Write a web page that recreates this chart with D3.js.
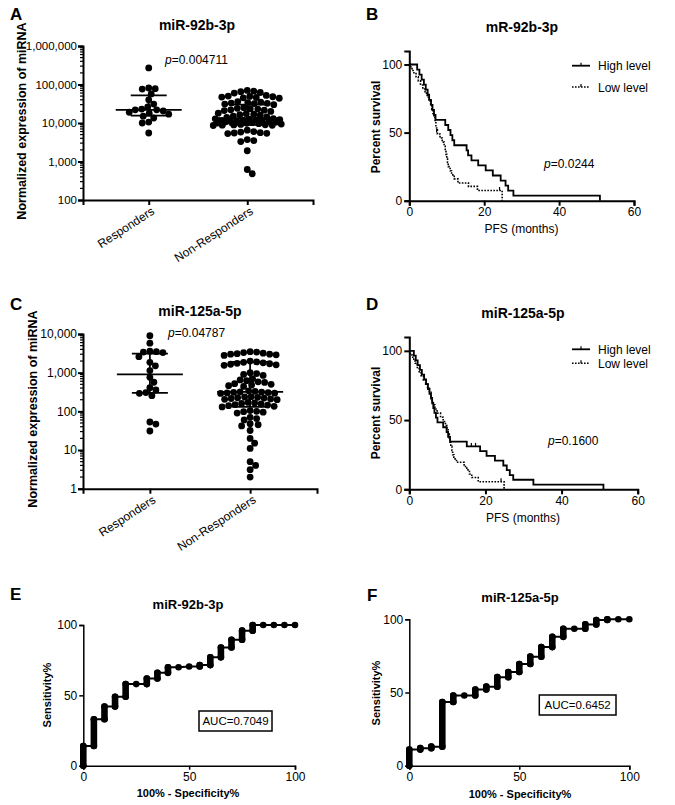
<!DOCTYPE html>
<html><head><meta charset="utf-8">
<script src="https://cdn.jsdelivr.net/npm/d3@7"></script>
<style>
body{margin:0;background:#fff;}
svg{display:block;}
</style></head><body>
<svg id="c" width="675" height="805"></svg>
<script>
// ---------------- DATA ----------------
const groups = ["Responders", "Non-Responders"];

// Panel A: miR-92b-3p normalized expression
const aResponders = [269000, 81000, 78000, 76000, 57000, 40000, 31000, 26000, 23000, 22000,
  22000, 20500, 19000, 18000, 17000, 15000, 13500, 10600, 10000, 5500];
const aNonResponders = [70000, 67000, 65000, 62000, 60000,
  52000, 50000, 49000, 48000, 47000, 46000, 45000, 44000,
  36000, 35000, 34000, 33000, 32500, 32000, 31000, 30000,
  25000, 24000, 23500, 23000, 22000, 21500, 21000, 20000,
  18000, 17500, 17000, 16500, 16000, 15000, 14500, 14000,
  13000, 12800, 12500, 12200, 12000, 11800, 11500, 11300, 11000, 11000, 10800, 10700,
  10500, 10200, 10000, 9800, 9600, 9400, 9200, 9000, 8900, 8800, 8700, 8600,
  6500, 6000, 5800, 5600, 5500, 5400, 5300,
  3700, 3500, 3300,
  1900, 620, 480];
const aMedian = [22000, 13300];
const aQ1 = [15500, 8900];
const aQ3 = [52000, 30000];
const aTicks = [100, 1000, 10000, 100000, 1000000];

// Panel C: miR-125a-5p normalized expression
const cResponders = [9000, 5800, 3600, 3400, 3300, 3500, 2600, 1500, 1850, 1130,
  760, 565, 410, 357, 293, 255, 305, 53, 47, 31];
const cNonResponders = [3500, 3400, 3300, 3200, 3100, 3000, 3000, 2900, 2800,
  2000, 1900, 1850, 1800, 1750, 1700, 1650, 1600, 1550,
  1000, 950, 900, 850,
  700, 650, 620, 580, 560,
  520, 500, 480, 460, 440,
  340, 330, 320, 315, 310, 305, 300, 295, 290,
  240, 235, 230, 225, 220, 215, 210, 205, 200,
  170, 165, 160, 155, 150, 145, 140, 135, 130,
  105, 100, 98, 95, 90,
  70, 65, 60,
  48, 45, 42,
  32, 20, 15, 11, 5, 4, 3.1, 2];
const cMedian = [900, 320];
const cQ1 = [300, 130];
const cQ3 = [3100, 1900];
const cTicks = [1, 10, 100, 1000, 10000];

// Panel B: Kaplan-Meier miR-92b-3p
const bHighT = [0, 2.1, 2.7, 3.3, 3.9, 4.4, 4.9, 5.3, 5.8, 6.2, 6.6, 7.0, 9.6, 10.4, 11.0, 11.5, 12.0, 15.3, 15.7, 16.6, 18.4, 20.4, 22.3, 24.4, 25.7, 26.4, 27.8, 50.9];
const bHighS = [100, 96.3, 92.6, 88.9, 85.2, 81.5, 77.8, 74.1, 70.4, 66.7, 63.0, 59.3, 55.6, 51.9, 48.1, 44.4, 40.7, 37.0, 33.3, 29.6, 25.9, 22.2, 18.5, 14.8, 11.1, 7.4, 3.7, 0];
const bLowT = [0, 0.4, 1.0, 1.8, 2.4, 3.0, 3.6, 4.2, 4.8, 5.3, 5.7, 6.0, 6.3, 6.6, 6.9, 7.1, 7.3, 7.5, 8.2, 8.8, 9.3, 9.6, 9.8, 10.0, 10.2, 10.4, 10.9, 11.3, 12.0, 13.0, 15.8, 18.2, 24.8];
const bLowS = [100, 97, 94, 91, 88, 85, 82, 79, 76, 73, 70, 67, 64, 61, 58, 55, 52, 49, 46, 43, 40, 37, 34, 31, 28, 25, 22, 19, 16, 13, 10.5, 7.5, 0];
const bLowCensT = [7.3, 24.1];
const bLowCensS = [50, 7.5];
const bHighCensT = [];
const bHighCensS = [];

// Panel D: Kaplan-Meier miR-125a-5p
const dHighT = [0, 1.2, 1.7, 2.2, 2.8, 3.3, 3.9, 4.4, 4.9, 5.3, 5.7, 6.0, 6.3, 6.6, 7.0, 7.4, 8.9, 9.8, 10.2, 10.7, 15.1, 18.6, 20.3, 22.5, 24.7, 25.6, 26.4, 27.3, 32.6, 51.0];
const dHighS = [100, 96.6, 93.1, 89.7, 86.2, 82.8, 79.3, 75.9, 72.4, 69.0, 65.5, 62.1, 58.6, 55.2, 51.7, 48.3, 44.8, 41.4, 37.9, 34.5, 31.0, 27.6, 24.1, 20.7, 17.2, 13.8, 10.3, 6.9, 3.4, 0];
const dLowT = [0, 0.3, 0.9, 1.5, 2.1, 2.6, 3.1, 3.7, 4.3, 4.8, 5.3, 5.7, 6.0, 6.3, 6.7, 7.3, 8.2, 8.9, 9.5, 9.9, 10.2, 10.5, 10.7, 10.9, 11.2, 11.4, 11.7, 12.4, 14.4, 15.1, 15.8, 16.4, 18.1, 24.9];
const dLowS = [100, 97, 94, 91, 88, 85, 82, 79, 76, 73, 70, 67, 64, 61, 58, 55, 52, 49, 46, 43, 40, 37, 34, 31, 28, 25, 22, 19.5, 16.5, 14, 11, 8.5, 5.5, 0];
const dHighCensT = [16.3, 17.4];
const dHighCensS = [31.0, 31.0];
const dLowCensT = [24.1];
const dLowCensS = [5.5];

const kmXTicks = [0, 20, 40, 60];
const kmYTicks = [0, 50, 100];

// Panel E: ROC miR-92b-3p (100% - specificity, sensitivity)
const eFpr = [0, 0, 5, 5, 10, 10, 15, 15, 20, 20, 25, 30, 30, 35, 35, 40, 40, 45, 50, 55, 55, 60, 60, 65, 65, 70, 70, 75, 75, 80, 80, 85, 90, 95, 100];
const eTpr = [0, 14, 14, 33, 33, 42, 42, 49, 49, 58, 58, 58, 62, 62, 66, 66, 70, 70, 70.5, 70.5, 71.5, 71.5, 77, 77, 84, 84, 89.5, 89.5, 96, 96, 100, 100, 100, 100, 100];
// Panel F: ROC miR-125a-5p
const fFpr = [0, 0, 5, 5, 10, 10, 15, 15, 20, 20, 25, 30, 30, 35, 35, 40, 40, 45, 45, 50, 50, 55, 55, 60, 60, 65, 65, 70, 70, 75, 80, 80, 85, 85, 90, 90, 95, 100];
const fTpr = [0, 11, 11, 12, 12, 13, 13, 43.5, 43.5, 48, 48, 48, 52, 52, 54, 54, 60.5, 60.5, 64, 64, 69.5, 69.5, 74.5, 74.5, 81, 81, 88, 88, 93.5, 93.5, 93.5, 96.5, 96.5, 99.5, 99.5, 100, 100, 100];
const rocTicks = [0, 50, 100];

// ---------------- DRAWING ----------------
const FONT = '"Liberation Sans", Arial, Helvetica, sans-serif';
const svg = d3.select("#c").attr("font-family", FONT);
svg.append("rect").attr("width", 675).attr("height", 805).attr("fill", "#fff");

function txt(x, y, s, opt = {}) {
  const t = svg.append("text").attr("x", x).attr("y", y).text(s)
    .attr("font-size", opt.size || 12).attr("fill", "#000")
    .attr("font-weight", opt.bold ? "bold" : "normal")
    .attr("text-anchor", opt.anchor || "start");
  if (opt.rotate) t.attr("transform", `rotate(${opt.rotate},${x},${y})`);
  return t;
}
function pText(x, y, val) {
  const t = svg.append("text").attr("x", x).attr("y", y).attr("font-size", 12).attr("fill", "#000");
  t.append("tspan").attr("font-style", "italic").text("p");
  t.append("tspan").text("=" + val);
}
function styleAxis(g, w, size) {
  g.attr("font-family", FONT).attr("font-size", size || 12);
  g.select(".domain").attr("stroke", "#000").attr("stroke-width", w);
  g.selectAll(".tick line").attr("stroke", "#000").attr("stroke-width", w);
  g.selectAll(".tick text").attr("fill", "#000");
}

function swarm(vals, y, cx, r, maxW) {
  const pts = vals.map(v => ({ v, y: y(v) })).sort((a, b) => a.y - b.y);
  const placed = [];
  const D = 2 * r * 0.93;
  const cands = [0];
  for (let o = 0.5; o <= maxW; o += 0.5) { cands.push(o); cands.push(-o); }
  for (const p of pts) {
    let best = null, bestO = 0, bestScore = -1;
    for (const o of cands) {
      let md = Infinity;
      for (const q of placed) {
        const d = Math.hypot(cx + o - q.x, p.y - q.y);
        if (d < md) md = d;
      }
      if (md >= D) { best = o; break; }
      if (md > bestScore) { bestScore = md; bestO = o; }
    }
    p.x = cx + (best !== null ? best : bestO);
    placed.push(p);
  }
  return placed;
}

function drawDot(cfg) {
  const y = d3.scaleLog().domain(cfg.domain).range([cfg.yBot, cfg.yTop]);
  const x = d3.scalePoint().domain(groups).range([cfg.x0, cfg.x1]).padding(0.667);
  const ya = svg.append("g").attr("transform", `translate(${cfg.x0},0)`)
    .call(d3.axisLeft(y).tickValues(cfg.ticks).tickFormat(d3.format(",")).tickSizeOuter(0).tickSize(5).tickPadding(1));
  styleAxis(ya, 2, cfg.tickFont);
  const minors = [];
  cfg.ticks.forEach(t => { for (let k = 2; k <= 9; k++) { const v = t * k; if (v < cfg.domain[1]) minors.push(v); } });
  ya.selectAll(".minor").data(minors).enter().append("line")
    .attr("x1", 0).attr("x2", -3).attr("y1", d => y(d)).attr("y2", d => y(d))
    .attr("stroke", "#000").attr("stroke-width", 1.2);
  const xa = svg.append("g").attr("transform", `translate(0,${cfg.yBot})`)
    .call(d3.axisBottom(x).tickSizeOuter(0).tickSize(5).tickFormat(""));
  styleAxis(xa, 2);
  groups.forEach(g => {
    svg.append("text").attr("transform", `translate(${x(g) + 2},${cfg.yBot + 6}) rotate(-33)`)
      .attr("text-anchor", "end").attr("dy", "0.71em").attr("font-size", 12).attr("fill", "#000").text(g);
  });
  cfg.series.forEach((vals, i) => {
    const pts = swarm(vals, y, x(groups[i]), 3.4, 34);
    svg.append("g").selectAll("circle").data(pts).enter().append("circle")
      .attr("cx", d => d.x).attr("cy", d => d.y).attr("r", 3.4).attr("fill", "#000");
  });
  groups.forEach((g, i) => {
    const cx = x(g);
    const gl = svg.append("g").attr("stroke", "#000").attr("stroke-width", 1.8);
    gl.append("line").attr("x1", cx - 33).attr("x2", cx + 33).attr("y1", y(cfg.med[i])).attr("y2", y(cfg.med[i]));
    gl.append("line").attr("x1", cx).attr("x2", cx).attr("y1", y(cfg.q1[i])).attr("y2", y(cfg.q3[i]));
    gl.append("line").attr("x1", cx - 18).attr("x2", cx + 18).attr("y1", y(cfg.q1[i])).attr("y2", y(cfg.q1[i]));
    gl.append("line").attr("x1", cx - 18).attr("x2", cx + 18).attr("y1", y(cfg.q3[i])).attr("y2", y(cfg.q3[i]));
  });
}

function drawKM(cfg) {
  const x = d3.scaleLinear().domain([0, 60]).range([cfg.x0, cfg.x1]);
  const y = d3.scaleLinear().domain([0, 110]).range([cfg.y0, cfg.yTop]);
  const ya = svg.append("g").attr("transform", `translate(${cfg.x0},0)`)
    .call(d3.axisLeft(y).tickValues(kmYTicks).tickSizeOuter(0).tickSize(5).tickPadding(2));
  styleAxis(ya, 2);
  const xa = svg.append("g").attr("transform", `translate(0,${cfg.y0})`)
    .call(d3.axisBottom(x).tickValues(kmXTicks).tickSizeOuter(0).tickSize(5).tickPadding(2));
  styleAxis(xa, 2);
  const line = d3.line().x(d => x(d[0])).y(d => y(d[1])).curve(d3.curveStepAfter);
  svg.append("path").attr("d", line(d3.zip(cfg.hT, cfg.hS))).attr("fill", "none")
    .attr("stroke", "#000").attr("stroke-width", 1.8);
  svg.append("path").attr("d", line(d3.zip(cfg.lT, cfg.lS))).attr("fill", "none")
    .attr("stroke", "#000").attr("stroke-width", 1.6).attr("stroke-dasharray", "1.6,1.4");
  const cens = d3.zip(cfg.hcT, cfg.hcS).concat(d3.zip(cfg.lcT, cfg.lcS));
  svg.append("g").selectAll("line").data(cens).enter().append("line")
    .attr("x1", d => x(d[0])).attr("x2", d => x(d[0])).attr("y1", d => y(d[1])).attr("y2", d => y(d[1]) - 3.5)
    .attr("stroke", "#000").attr("stroke-width", 1.2);
  // legend
  const lg = cfg.legend;
  svg.append("line").attr("x1", lg.x).attr("x2", lg.x + 18).attr("y1", lg.y1).attr("y2", lg.y1).attr("stroke", "#000").attr("stroke-width", 1.8);
  svg.append("line").attr("x1", lg.x + 9).attr("x2", lg.x + 9).attr("y1", lg.y1).attr("y2", lg.y1 - 3).attr("stroke", "#000").attr("stroke-width", 1.2);
  svg.append("line").attr("x1", lg.x).attr("x2", lg.x + 18).attr("y1", lg.y2).attr("y2", lg.y2).attr("stroke", "#000").attr("stroke-width", 1.6).attr("stroke-dasharray", "1.6,1.4");
  svg.append("line").attr("x1", lg.x + 9).attr("x2", lg.x + 9).attr("y1", lg.y2).attr("y2", lg.y2 - 3).attr("stroke", "#000").attr("stroke-width", 1.2);
  txt(lg.x + 26, lg.y1 + 4.5, "High level");
  txt(lg.x + 26, lg.y2 + 4.5, "Low level");
}

function drawROC(cfg) {
  const x = d3.scaleLinear().domain([0, 100]).range([cfg.x0, cfg.x1]);
  const y = d3.scaleLinear().domain([0, 100]).range([cfg.y0, cfg.yTop]);
  const ya = svg.append("g").attr("transform", `translate(${cfg.x0},0)`)
    .call(d3.axisLeft(y).tickValues(rocTicks).tickSizeOuter(0).tickSize(4).tickPadding(2));
  styleAxis(ya, 1.5);
  const xa = svg.append("g").attr("transform", `translate(0,${cfg.y0})`)
    .call(d3.axisBottom(x).tickValues(rocTicks).tickSizeOuter(0).tickSize(4).tickPadding(3));
  styleAxis(xa, 1.5);
  const pts = d3.zip(cfg.fpr, cfg.tpr);
  svg.append("path").attr("d", d3.line().x(d => x(d[0])).y(d => y(d[1]))(pts))
    .attr("fill", "none").attr("stroke", "#000").attr("stroke-width", 2);
  const verts = [];
  for (let i = 1; i < pts.length; i++) {
    if (pts[i][0] === pts[i - 1][0] && pts[i][1] !== pts[i - 1][1]) verts.push([pts[i - 1], pts[i]]);
  }
  svg.append("g").selectAll("line").data(verts).enter().append("line")
    .attr("x1", d => x(d[0][0])).attr("x2", d => x(d[1][0]))
    .attr("y1", d => y(d[0][1])).attr("y2", d => y(d[1][1]))
    .attr("stroke", "#000").attr("stroke-width", 6.6).attr("stroke-linecap", "round");
  svg.append("g").selectAll("circle").data(pts).enter().append("circle")
    .attr("cx", d => x(d[0])).attr("cy", d => y(d[1])).attr("r", 3.3).attr("fill", "#000");
  const b = cfg.box;
  svg.append("rect").attr("x", b[0]).attr("y", b[1]).attr("width", b[2]).attr("height", b[3])
    .attr("fill", "#fff").attr("stroke", "#000").attr("stroke-width", 1.5);
  txt(b[0] + b[2] / 2, b[1] + b[3] / 2 + 4.2, cfg.auc, { anchor: "middle", size: 11.5 });
}

// ---- Panel A ----
txt(10, 20, "A", { bold: true, size: 17 });
txt(197, 30, "miR-92b-3p", { bold: true, size: 14, anchor: "middle" });
txt(26, 121, "Normalized expression of miRNA", { bold: true, size: 12.5, anchor: "middle", rotate: -90 });
drawDot({ x0: 83, x1: 313, yTop: 46, yBot: 200, domain: [100, 1000000], ticks: aTicks, tickFont: 11.5,
  series: [aResponders, aNonResponders], med: aMedian, q1: aQ1, q3: aQ3 });
pText(165, 64, "0.004711");

// ---- Panel C ----
txt(10, 310, "C", { bold: true, size: 17 });
txt(200, 316, "miR-125a-5p", { bold: true, size: 14, anchor: "middle" });
txt(37, 409, "Normalized expression of miRNA", { bold: true, size: 12.5, anchor: "middle", rotate: -90 });
drawDot({ x0: 83, x1: 317, yTop: 334, yBot: 488.7, domain: [1, 10000], ticks: cTicks, tickFont: 12,
  series: [cResponders, cNonResponders], med: cMedian, q1: cQ1, q3: cQ3 });
pText(168, 337, "0.04787");

// ---- Panel B ----
txt(366, 20, "B", { bold: true, size: 17 });
txt(522, 32, "mR-92b-3p", { bold: true, size: 14, anchor: "middle" });
txt(380, 127, "Percent survival", { bold: true, size: 12, anchor: "middle", rotate: -90 });
drawKM({ x0: 409.3, x1: 634, y0: 200.7, yTop: 50.9, hT: bHighT, hS: bHighS, lT: bLowT, lS: bLowS,
  hcT: bHighCensT, hcS: bHighCensS, lcT: bLowCensT, lcS: bLowCensS, legend: { x: 572, y1: 65.7, y2: 87 } });
txt(521.5, 233, "PFS (months)", { anchor: "middle" });
pText(544, 168, "0.0244");

// ---- Panel D ----
txt(366, 310, "D", { bold: true, size: 17 });
txt(523, 318, "miR-125a-5p", { bold: true, size: 14, anchor: "middle" });
txt(380, 413, "Percent survival", { bold: true, size: 12, anchor: "middle", rotate: -90 });
drawKM({ x0: 409.3, x1: 637.7, y0: 489.3, yTop: 337, hT: dHighT, hS: dHighS, lT: dLowT, lS: dLowS,
  hcT: dHighCensT, hcS: dHighCensS, lcT: dLowCensT, lcS: dLowCensS, legend: { x: 572, y1: 349.3, y2: 363.3 } });
txt(523, 521.5, "PFS (months)", { anchor: "middle" });
pText(548, 445, "0.1600");

// ---- Panel E ----
txt(10, 600, "E", { bold: true, size: 17 });
txt(188, 609, "miR-92b-3p", { bold: true, size: 13, anchor: "middle" });
txt(51, 695, "Sensitivity%", { bold: true, size: 11, anchor: "middle", rotate: -90 });
drawROC({ x0: 83.3, x1: 295, y0: 765.7, yTop: 625, fpr: eFpr, tpr: eTpr, box: [199, 711, 73, 20], auc: "AUC=0.7049" });
txt(188, 797, "100% - Specificity%", { bold: true, size: 11, anchor: "middle" });

// ---- Panel F ----
txt(367, 601, "F", { bold: true, size: 17 });
txt(520, 602, "miR-125a-5p", { bold: true, size: 13, anchor: "middle" });
txt(380, 693, "Sensitivity%", { bold: true, size: 11, anchor: "middle", rotate: -90 });
drawROC({ x0: 409.3, x1: 629.3, y0: 765.7, yTop: 619.3, fpr: fFpr, tpr: fTpr, box: [539.3, 695, 76.7, 20], auc: "AUC=0.6452" });
txt(520, 798, "100% - Specificity%", { bold: true, size: 11, anchor: "middle" });
</script>
</body></html>
